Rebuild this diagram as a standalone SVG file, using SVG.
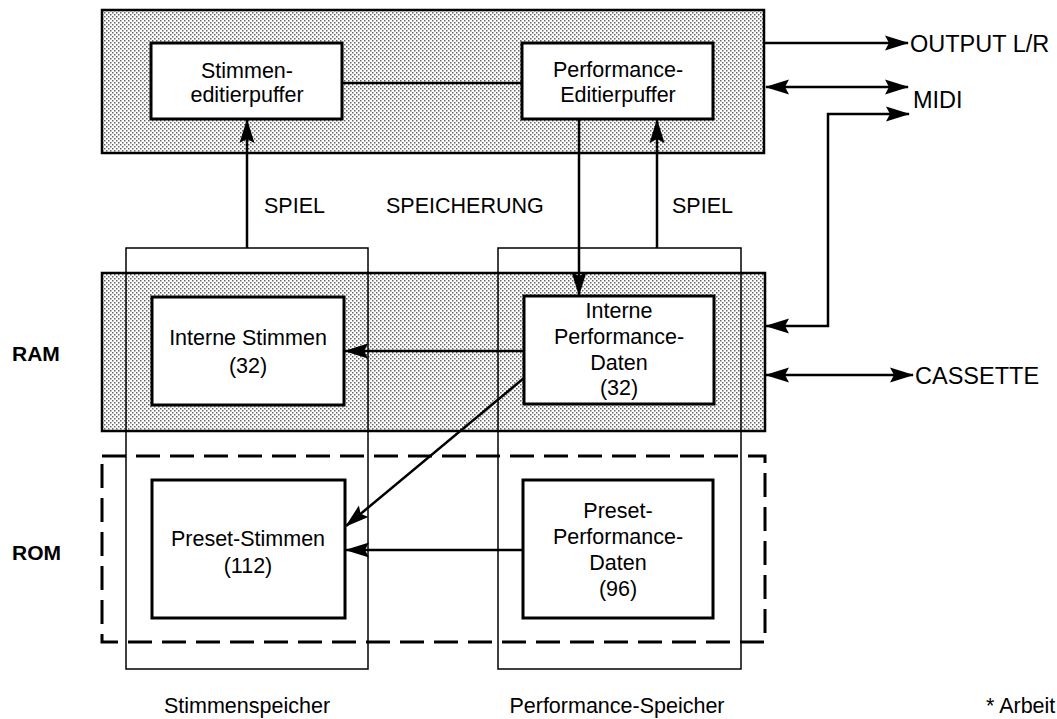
<svg xmlns="http://www.w3.org/2000/svg" width="1057" height="719" viewBox="0 0 1057 719">
  <defs>
    <pattern id="dots" width="4" height="4" patternUnits="userSpaceOnUse">
      <rect width="4" height="4" fill="#ffffff"/>
      <rect x="0" y="0" width="1.5" height="1.5" fill="#666"/>
      <rect x="2" y="2" width="1.5" height="1.5" fill="#666"/>
    </pattern>
    <marker id="ah" markerWidth="24" markerHeight="16" refX="23" refY="8" orient="auto-start-reverse" markerUnits="userSpaceOnUse">
      <path d="M0,0.5 L24,8 L0,15.5 L4,8 Z" fill="#000"/>
    </marker>
    <style>
      .shade { fill: url(#dots); stroke: #000; stroke-width: 2.5; }
      .box { fill: #fff; stroke: #000; stroke-width: 3; }
      .mem { fill: none; stroke: #000; stroke-width: 1.5; }
      .rom { fill: none; stroke: #000; stroke-width: 3; stroke-dasharray: 24 10; }
      .ln { fill: none; stroke: #000; stroke-width: 2.5; }
      .arr { fill: none; stroke: #000; stroke-width: 2.5; marker-end: url(#ah); }
      .arr2 { fill: none; stroke: #000; stroke-width: 2.5; marker-end: url(#ah); marker-start: url(#ah); }
      text { font-family: "Liberation Sans", Arial, sans-serif; fill: #000; }
      .t { font-size: 21.5px; text-anchor: middle; }
      .lab { font-size: 21.5px; }
      .io { font-size: 23.5px; }
      .side { font-size: 21px; font-weight: bold; }
    </style>
  </defs>

  <rect width="1057" height="719" fill="#fff"/>

  <!-- shaded areas -->
  <g id="edit-area"><rect class="shade" x="102" y="10" width="662" height="143"/></g>
  <g id="ram-area"><rect class="shade" x="102" y="273" width="663" height="158"/></g>
  <g id="rom-area"><rect class="rom" x="102" y="456" width="663" height="186"/></g>

  <!-- memory columns -->
  <g id="stimmenspeicher"><rect class="mem" x="126" y="248" width="242" height="421"/></g>
  <g id="performance-speicher"><rect class="mem" x="498" y="248" width="243" height="421"/></g>

  <!-- connectors -->
  <g id="connectors">
    <line class="ln" x1="342" y1="83" x2="522" y2="83"/>
    <line class="arr" x1="247" y1="248" x2="247" y2="120"/>
    <line class="arr" x1="657" y1="248" x2="657" y2="120"/>
    <line class="arr" x1="579" y1="119" x2="579" y2="295"/>
    <line class="arr" x1="524" y1="351" x2="345" y2="351"/>
    <line class="arr" x1="524" y1="378" x2="346" y2="526"/>
    <line class="arr" x1="523" y1="550" x2="346" y2="550"/>
    <line class="arr" x1="764" y1="43" x2="908" y2="43"/>
    <line class="arr2" x1="766" y1="87" x2="908" y2="87"/>
    <polyline class="arr2" points="766,326 828,326 828,114 909,114"/>
    <line class="arr2" x1="766" y1="375" x2="913" y2="375"/>
  </g>

  <!-- nodes -->
  <g id="stimmen-editierpuffer">
    <rect class="box" x="151" y="43" width="191" height="76"/>
    <text class="t" x="247" y="78">Stimmen-</text>
    <text class="t" x="247" y="102">editierpuffer</text>
  </g>
  <g id="performance-editierpuffer">
    <rect class="box" x="522" y="43" width="191" height="76"/>
    <text class="t" x="618" y="77">Performance-</text>
    <text class="t" x="618" y="102">Editierpuffer</text>
  </g>
  <g id="interne-stimmen">
    <rect class="box" x="152" y="297" width="192" height="108"/>
    <text class="t" x="248" y="345">Interne Stimmen</text>
    <text class="t" x="248" y="373">(32)</text>
  </g>
  <g id="interne-performance">
    <rect class="box" x="524" y="296" width="190" height="108"/>
    <text class="t" x="619" y="318">Interne</text>
    <text class="t" x="619" y="344">Performance-</text>
    <text class="t" x="619" y="370">Daten</text>
    <text class="t" x="619" y="395">(32)</text>
  </g>
  <g id="preset-stimmen">
    <rect class="box" x="152" y="480" width="193" height="138"/>
    <text class="t" x="248" y="546">Preset-Stimmen</text>
    <text class="t" x="248" y="573">(112)</text>
  </g>
  <g id="preset-performance">
    <rect class="box" x="523" y="480" width="190" height="138"/>
    <text class="t" x="618" y="518">Preset-</text>
    <text class="t" x="618" y="544">Performance-</text>
    <text class="t" x="618" y="570">Daten</text>
    <text class="t" x="618" y="596">(96)</text>
  </g>

  <!-- labels -->
  <g id="labels">
    <text class="lab" x="264" y="213">SPIEL</text>
    <text class="lab" x="386" y="213">SPEICHERUNG</text>
    <text class="lab" x="672" y="213">SPIEL</text>
    <text class="io" x="910" y="52">OUTPUT L/R</text>
    <text class="io" x="913" y="108">MIDI</text>
    <text class="io" x="915" y="384">CASSETTE</text>
    <text class="side" x="12" y="361">RAM</text>
    <text class="side" x="12" y="560">ROM</text>
    <text class="t" x="247" y="713">Stimmenspeicher</text>
    <text class="t" x="617" y="713">Performance-Speicher</text>
    <text class="lab" x="986" y="713">* Arbeit</text>
  </g>
</svg>
